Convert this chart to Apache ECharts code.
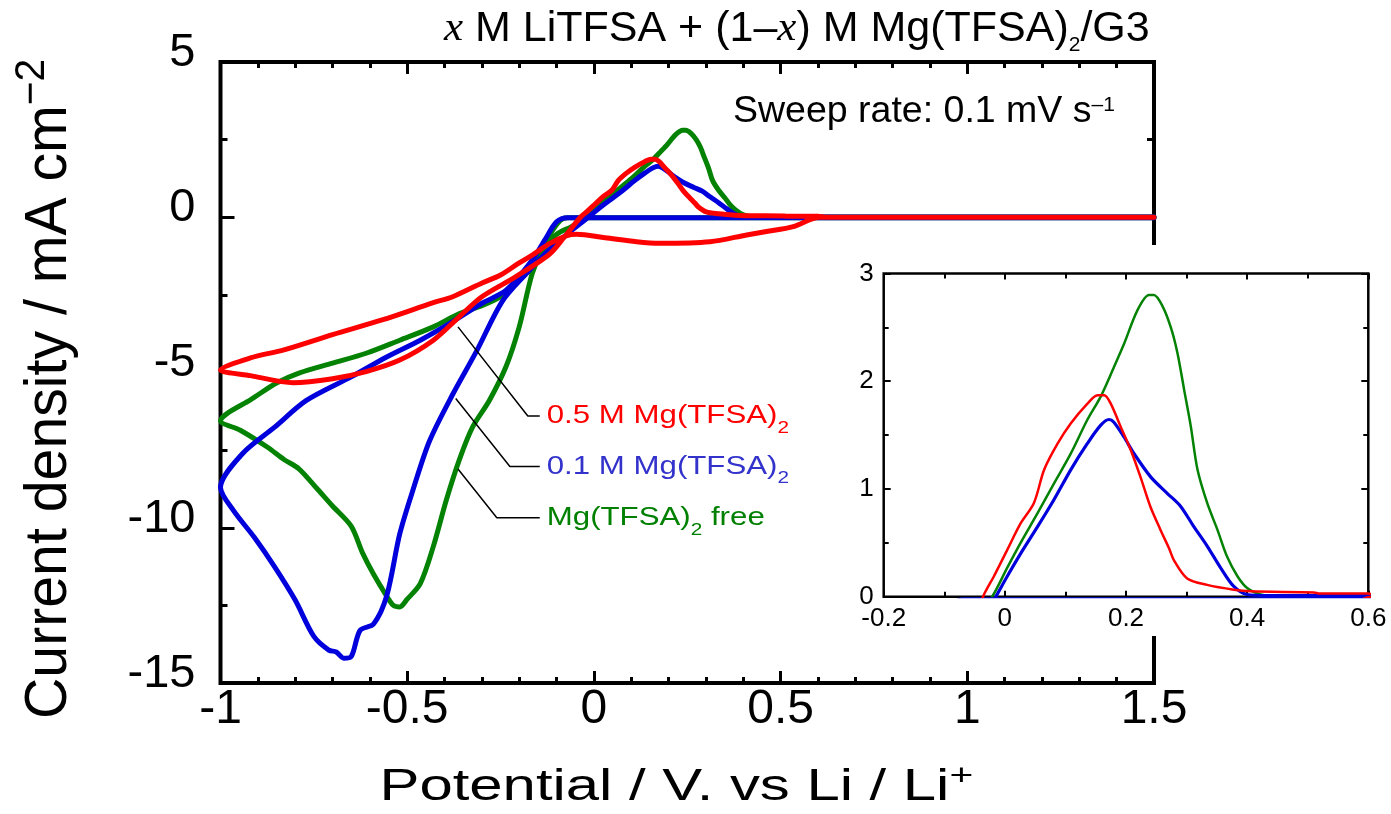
<!DOCTYPE html>
<html lang="en">
<head>
<meta charset="UTF-8">
<title>CV Mg(TFSA)2 / LiTFSA in G3</title>
<script src="https://cdn.jsdelivr.net/npm/echarts@6/dist/echarts.min.js"></script>
<style>
  html, body { margin: 0; padding: 0; background: #fff; }
  #main { width: 1391px; height: 814px; }
</style>
</head>
<body>
<div id="main"></div>
<script>
// values: [potential / V vs Li/Li+, current density / mA cm-2]
// each loop: 1.5 V -> -1 V -> back to 1.5 V
var freeCV = [[1.5,-0.02],[-0.07,-0.02],[-0.09,-0.1],[-0.12,-0.6],[-0.165,-1.6],[-0.21,-2.15],[-0.25,-2.56],[-0.30,-2.85],[-0.36,-3.1],[-0.43,-3.53],[-0.52,-3.96],[-0.61,-4.38],[-0.70,-4.7],[-0.79,-5.02],[-0.85,-5.34],[-0.92,-5.88],[-0.98,-6.3],[-1.0,-6.55],
  [-0.947,-6.86],[-0.875,-7.4],[-0.83,-7.8],[-0.79,-8.1],[-0.74,-8.76],[-0.70,-9.3],[-0.65,-9.95],[-0.62,-10.8],[-0.59,-11.5],[-0.555,-12.2],[-0.537,-12.5],[-0.52,-12.55],[-0.50,-12.3],[-0.465,-11.8],[-0.43,-10.6],[-0.395,-9.1],[-0.36,-7.8],[-0.325,-6.76],[-0.28,-5.9],[-0.235,-4.8],[-0.20,-3.53],[-0.165,-1.8],[-0.136,-1.05],[-0.10,-0.55],[-0.06,-0.3],[-0.021,0],
  [0.004,0.27],[0.026,0.50],[0.054,0.775],[0.081,1.05],[0.109,1.33],[0.136,1.64],[0.158,1.855],[0.180,2.13],[0.197,2.35],[0.219,2.66],[0.238,2.80],[0.246,2.80],[0.260,2.70],[0.274,2.50],[0.285,2.26],[0.296,1.92],[0.307,1.58],[0.318,1.18],[0.334,0.87],[0.351,0.62],[0.367,0.37],[0.384,0.19],[0.40,0.08],[0.422,0.02],[0.444,0.005],[1.5,0.005]];

var mg01CV = [[1.5,-0.02],[-0.07,-0.02],[-0.1,-0.15],[-0.13,-0.7],[-0.165,-1.38],[-0.235,-2.35],[-0.30,-2.77],[-0.385,-3.41],[-0.465,-3.96],[-0.555,-4.5],[-0.65,-5.14],[-0.77,-5.9],[-0.855,-6.76],[-0.94,-7.6],[-1.0,-8.7],
  [-0.965,-9.45],[-0.91,-10.3],[-0.855,-11.26],[-0.80,-12.33],[-0.75,-13.5],[-0.71,-13.94],[-0.69,-14.0],[-0.67,-14.2],[-0.65,-14.15],[-0.626,-13.3],[-0.59,-13.1],[-0.555,-12.2],[-0.52,-10.2],[-0.485,-8.8],[-0.44,-7.2],[-0.378,-5.7],[-0.315,-4.33],[-0.245,-2.7],[-0.18,-1.8],[-0.12,-1.05],[-0.057,-0.4],[-0.015,0],
  [0.004,0.19],[0.026,0.40],[0.054,0.65],[0.081,0.90],[0.109,1.18],[0.136,1.42],[0.158,1.59],[0.172,1.645],[0.180,1.62],[0.197,1.48],[0.213,1.33],[0.241,1.11],[0.268,0.96],[0.29,0.84],[0.312,0.65],[0.334,0.47],[0.356,0.27],[0.378,0.095],[0.40,0.02],[0.43,0.01],[1.5,0.01]];

var mg05CV = [[1.5,0],[0.605,0],[0.534,-0.30],[0.462,-0.46],[0.409,-0.57],[0.311,-0.79],[0.177,-0.84],[0.114,-0.79],[0.03,-0.66],[-0.047,-0.55],[-0.074,-0.6],[-0.119,-0.85],[-0.164,-1.21],[-0.2,-1.47],[-0.25,-1.86],[-0.298,-2.11],[-0.378,-2.56],[-0.43,-2.75],[-0.565,-3.3],[-0.70,-3.78],[-0.83,-4.27],[-0.92,-4.53],[-1.0,-4.92],
  [-0.92,-5.1],[-0.805,-5.33],[-0.70,-5.2],[-0.61,-4.97],[-0.52,-4.6],[-0.43,-3.96],[-0.36,-3.2],[-0.30,-2.56],[-0.21,-1.92],[-0.12,-1.2],[-0.08,-0.65],[-0.036,0],
  [-0.018,0.19],[0.004,0.435],[0.026,0.68],[0.048,0.87],[0.065,1.18],[0.087,1.42],[0.109,1.61],[0.136,1.79],[0.153,1.87],[0.164,1.87],[0.175,1.79],[0.191,1.58],[0.208,1.36],[0.224,1.11],[0.24,0.84],[0.257,0.62],[0.271,0.45],[0.279,0.34],[0.301,0.17],[0.334,0.11],[0.378,0.065],[0.406,0.05],[0.51,0.04],[0.52,0.03],[0.6,0.03],[0.62,0],[1.5,0]];

// leader lines from curve to label (data coords of main plot)
var leader05 = [[-0.364,-3.53],[-0.177,-6.40],[-0.145,-6.40]];
var leader01 = [[-0.370,-5.84],[-0.225,-8.03],[-0.145,-8.03]];
var leaderFree = [[-0.364,-8.11],[-0.260,-9.68],[-0.145,-9.68]];

var xTicksMain = [-1, -0.5, 0, 0.5, 1, 1.5];
var yTicksMain = [-15, -10, -5, 0, 5];
var xTicksInset = [-0.2, 0, 0.2, 0.4, 0.6];
var yTicksInset = [0, 1, 2, 3];

var RED = '#ff0000', BLUE = '#0000dd', GREEN = '#048204';
var sans = '"Liberation Sans", Arial, Helvetica, sans-serif';
var serif = '"Liberation Serif", "Times New Roman", serif';

var chart = echarts.init(document.getElementById('main'));

function xAx(grid, ticks, pos, o) {
    var lab = { show: false };
    if (o.label) {
        lab = { show: true, fontSize: o.fs, fontFamily: sans, color: '#000', margin: o.margin,
            showMinLabel: true, showMaxLabel: true };
        if (o.lh) { lab.verticalAlign = 'bottom'; lab.lineHeight = o.lh; }
    }
    return {
        type: 'value', gridIndex: grid, position: pos,
        min: ticks[0], max: ticks[ticks.length - 1], interval: ticks[1] - ticks[0],
        z: o.z || 0,
        axisLine: { show: false, onZero: false }, splitLine: { show: false },
        axisTick: { inside: true, length: o.tl, lineStyle: { color: '#000', width: o.tw } },
        minorTick: { show: true, splitNumber: o.split, length: o.ml, lineStyle: { color: '#000', width: o.tw } },
        axisLabel: lab
    };
}

function cv(name, data, color, width, xi, yi, z) {
    return {
        type: 'line', name: name, data: data, xAxisIndex: xi, yAxisIndex: yi,
        symbol: 'none', showSymbol: false, clip: true, silent: true, z: z, smooth: 0.3,
        lineStyle: { color: color, width: width, join: 'round', cap: 'round' }
    };
}

function leader(data) {
    return { type: 'line', data: data, xAxisIndex: 0, yAxisIndex: 0, symbol: 'none', silent: true, z: 3,
        lineStyle: { color: '#000', width: 1.5 } };
}

var option = {
    animation: false,
    backgroundColor: '#fff',
    grid: [
        { left: 220.5, right: 237, top: 62, bottom: 131, show: true, borderColor: '#000', borderWidth: 4, backgroundColor: 'transparent' },
        { left: 883.7, right: 22.7, top: 273.5, bottom: 217.3, show: true, borderColor: '#000', borderWidth: 2.5, backgroundColor: 'transparent', z: 5 }
    ],
    xAxis: [
        xAx(0, xTicksMain, 'bottom', { tl: 12, ml: 6, tw: 3, split: 5, label: true, fs: 48, margin: 3 }),
        xAx(0, xTicksMain, 'top', { tl: 12, ml: 6, tw: 3, split: 5 }),
        xAx(1, xTicksInset, 'bottom', { tl: 6, ml: 5, tw: 2, split: 2, label: true, fs: 26, margin: 9, z: 5 }),
        xAx(1, xTicksInset, 'top', { tl: 6, ml: 5, tw: 2, split: 2, z: 5 })
    ],
    yAxis: [
        xAx(0, yTicksMain, 'left', { tl: 14, ml: 7, tw: 3, split: 2, label: true, fs: 47, margin: 25, lh: 18 }),
        xAx(0, yTicksMain, 'right', { tl: 14, ml: 7, tw: 3, split: 2 }),
        xAx(1, yTicksInset, 'left', { tl: 7, ml: 5, tw: 2, split: 2, label: true, fs: 26, margin: 10, z: 5 }),
        xAx(1, yTicksInset, 'right', { tl: 7, ml: 5, tw: 2, split: 2, z: 5 })
    ],
    series: [
        cv('Mg(TFSA)2 free', freeCV, GREEN, 5, 0, 0, 2),
        cv('0.1 M Mg(TFSA)2', mg01CV, BLUE, 5, 0, 0, 2),
        cv('0.5 M Mg(TFSA)2', mg05CV, RED, 5, 0, 0, 2),
        leader(leader05), leader(leader01), leader(leaderFree),
        cv('Mg(TFSA)2 free', freeCV, GREEN, 2.5, 2, 2, 6),
        cv('0.1 M Mg(TFSA)2', mg01CV, BLUE, 3.2, 2, 2, 6),
        cv('0.5 M Mg(TFSA)2', mg05CV, RED, 2.5, 2, 2, 6)
    ]
};
chart.setOption(option);

function txt(x, y, text, rich, fill, extra) {
    var el = {
        type: 'text', x: x, y: y, z: 10, silent: true,
        style: { text: text, rich: rich, fill: fill, font: '20px ' + sans,
            align: 'left', textAlign: 'left', verticalAlign: 'middle', textVerticalAlign: 'middle' }
    };
    for (var k in extra) el[k] = extra[k];
    return el;
}

function leaderLabel(pts, text, color) {
    var end = chart.convertToPixel({ gridIndex: 0 }, pts[pts.length - 1]);
    return txt(end[0] + 7, end[1], text, {
        n: { font: '25.6px ' + sans, lineHeight: 31 },
        s: { font: '17px ' + sans, lineHeight: 8, padding: [24, 0, 0, 0] }
    }, color, { scaleX: 1.22 });
}

var graphics = [
    // white box behind the inset
    { type: 'rect', silent: true, z: 4, shape: { x: 845, y: 245, width: 546, height: 391 }, style: { fill: '#fff' } },
    txt(444, 29, '{i|x}{n| M LiTFSA + (1–}{i|x}{n|) M Mg(TFSA)}{s|2}{n|/G3}', {
        n: { font: '43px ' + sans, lineHeight: 52 },
        i: { font: 'italic 43px ' + serif, lineHeight: 52 },
        s: { font: '21px ' + sans, lineHeight: 10, padding: [33, 0, 0, 0] }
    }, '#000', {}),
    txt(733, 111.5, '{n|Sweep rate: 0.1 mV s}{p|–1}', {
        n: { font: '37.5px ' + sans, lineHeight: 45 },
        p: { font: '21px ' + sans, lineHeight: 10, padding: [0, 0, 12, 0] }
    }, '#000', {}),
    txt(379.5, 787.5, '{n|Potential / V. vs Li / Li}{p|+}', {
        n: { font: '44px ' + sans, lineHeight: 53 },
        p: { font: '30px ' + sans, lineHeight: 10, padding: [0, 0, 21, 0] }
    }, '#000', { scaleX: 1.36 }),
    txt(50, 719, '{n|Current density / mA cm}{p|−2}', {
        n: { font: '59px ' + sans, lineHeight: 71 },
        p: { font: '42px ' + sans, lineHeight: 10, padding: [0, 0, 36, 0] }
    }, '#000', { rotation: Math.PI / 2, scaleX: 0.97 }),
    leaderLabel(leader05, '{n|0.5 M Mg(TFSA)}{s|2}', RED),
    leaderLabel(leader01, '{n|0.1 M Mg(TFSA)}{s|2}', '#3333cc'),
    leaderLabel(leaderFree, '{n|Mg(TFSA)}{s|2}{n| free}', '#008000')
];
chart.setOption({ graphic: graphics });
window.onresize = chart.resize;
</script>
</body>
</html>
